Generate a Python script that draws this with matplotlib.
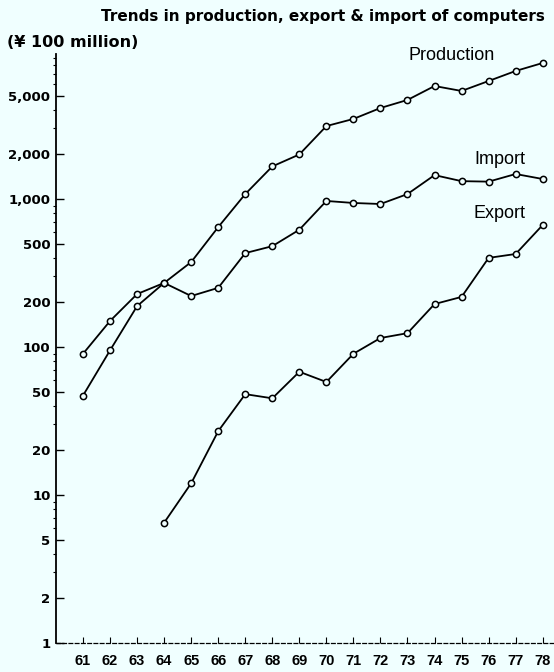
import matplotlib
matplotlib.use("Agg")
import matplotlib.pyplot as plt
from matplotlib.ticker import FixedLocator, LogLocator, NullFormatter

# 年 (19xx)
years = list(range(61, 79))
production = [47, 95, 189, 271, 375, 646, 1080, 1660, 2000, 3110,
              3475, 4120, 4670, 5800, 5370, 6270, 7330, 8300]
imports = [90, 150, 228, 271, 221, 251, 431, 480, 620, 970,
           940, 925, 1080, 1450, 1320, 1310, 1475, 1365]
export_years = list(range(64, 79))
exports = [6.5, 12, 27, 48, 45, 68, 58, 90, 115, 124,
           195, 218, 400, 425, 667]

ytick_vals = [1, 2, 5, 10, 20, 50, 100, 200, 500, 1000, 2000, 5000]
ytick_labels = ["1", "2", "5", "10", "20", "50", "100", "200", "500",
                "1,000", "2,000", "5,000"]

bg = "#f0ffff"
plt.rcParams["font.family"] = ["Liberation Sans", "DejaVu Sans"]

fig = plt.figure(figsize=(5.54, 6.72), dpi=100, facecolor=bg)
ax = fig.add_axes([0.1011, 0.0432, 0.898, 0.876])
ax.set_facecolor(bg)

style = dict(color="black", lw=1.3, marker="o", ms=4.5, mfc=bg, mec="black", mew=1.1)
ax.plot(years, production, **style)
ax.plot(years, imports, **style)
ax.plot(export_years, exports, **style)

ax.set_yscale("log")
ax.set_ylim(1, 9500)
ax.set_xlim(60.0, 78.4)

ax.yaxis.set_major_locator(FixedLocator(ytick_vals))
ax.set_yticklabels(ytick_labels)
ax.yaxis.set_minor_locator(LogLocator(base=10, subs=range(2, 10)))
ax.yaxis.set_minor_formatter(NullFormatter())
ax.set_xticks(years)
ax.set_xticklabels([str(y) for y in years])

ax.tick_params(axis="y", which="major", direction="in", length=6, width=1, pad=4)
ax.tick_params(axis="y", which="minor", direction="out", length=2, width=0.8)
ax.tick_params(axis="x", which="major", direction="in", length=4, width=0.8, pad=8)
for lab in ax.get_yticklabels():
    lab.set_fontfamily("DejaVu Sans")
    lab.set_fontsize(9.5)
    lab.set_fontweight("bold")
for lab in ax.get_xticklabels():
    lab.set_fontsize(10.5)
    lab.set_fontweight("bold")

for s in ["top", "right"]:
    ax.spines[s].set_visible(False)
ax.spines["left"].set_linewidth(1.3)
ax.spines["bottom"].set_linewidth(0.9)
ax.spines["bottom"].set_linestyle((0, (3, 2)))

ax.text(74.65, 9300, "Production", fontsize=13, ha="center", va="center")
ax.text(76.4, 1860, "Import", fontsize=13, ha="center", va="center")
ax.text(76.4, 804, "Export", fontsize=13, ha="center", va="center")

fig.text(0.583, 0.975, "Trends in production, export & import of computers",
         fontsize=11, fontweight="bold", family="DejaVu Sans",
         ha="center", va="center")
fig.text(0.012, 0.937, "(\u00a5 100 million)", fontsize=11.5, fontweight="bold",
         family="DejaVu Sans", ha="left", va="center")

fig.savefig("out.png", dpi=100, facecolor=bg)
